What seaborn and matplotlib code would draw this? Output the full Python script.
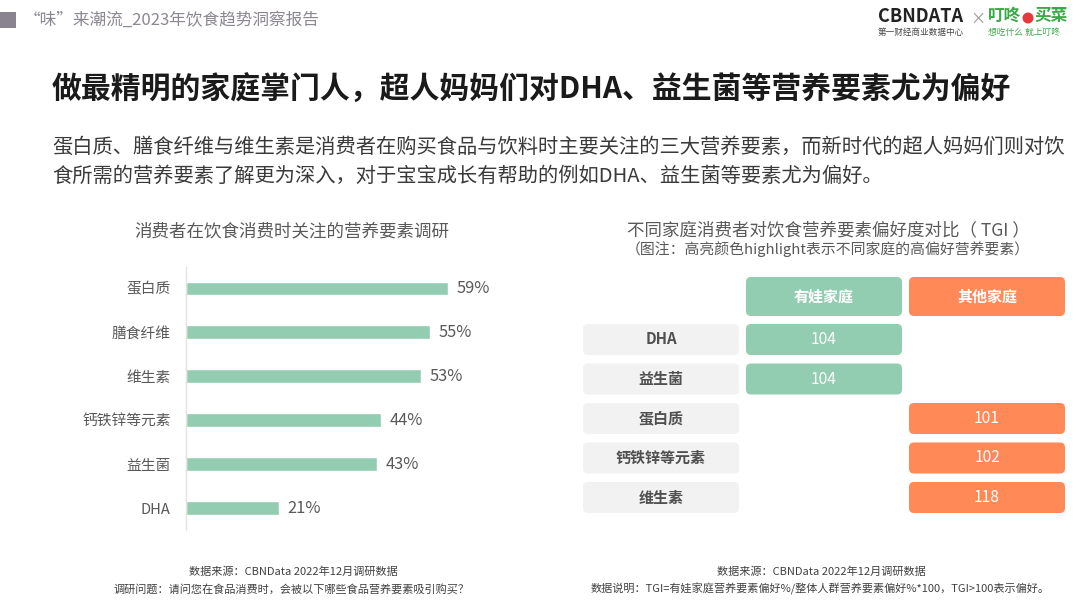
import numpy as np
import pandas as pd
import matplotlib
matplotlib.use("Agg")
import matplotlib.pyplot as plt
from matplotlib.patches import FancyBboxPatch, Rectangle, Circle
import seaborn as sns

W, H = 1080, 603

# left chart: share of consumers caring about each nutrient
nutrients = ["蛋白质", "膳食纤维", "维生素", "钙铁锌等元素", "益生菌", "DHA"]
shares = [59, 55, 53, 44, 43, 21]

# right table: TGI by family type
tgi_groups = ["有娃家庭", "其他家庭"]
tgi_items = ["DHA", "益生菌", "蛋白质", "钙铁锌等元素", "维生素"]
tgi_values = [104, 104, 101, 102, 118]
tgi_owner = ["有娃家庭", "有娃家庭", "其他家庭", "其他家庭", "其他家庭"]

GREEN = "#93cdb1"
ORANGE = "#ff8957"
CELL_GREY = "#f2f2f2"
TXT = "#595959"

sns.set_theme(style="white")
plt.rcParams["font.family"] = ["Noto Sans CJK SC", "DejaVu Sans"]

fig = plt.figure(figsize=(W / 100, H / 100), dpi=100, facecolor="white")


def fx(x):
    return x / W


def fy(y):
    return 1 - y / H


# full-figure axes in pixel units for text, logo and the table
bg = fig.add_axes([0, 0, 1, 1])
bg.set_xlim(0, W)
bg.set_ylim(H, 0)
bg.axis("off")

# ---- header ----
bg.add_patch(Rectangle((0, 12), 16, 16, color="#8a8490", lw=0))
bg.text(24, 20, "“味”来潮流_2023年饮食趋势洞察报告", fontsize=12, color="#8c8790",
        va="center", ha="left")

bg.text(878, 17, "CBNDATA", fontsize=13, fontweight="bold", color="#222222",
        va="center", ha="left")
bg.text(878, 32, "第一财经商业数据中心", fontsize=6.2, color="#444444",
        va="center", ha="left")
bg.text(978, 19, "×", fontsize=11, color="#999999", va="center", ha="center")
bg.text(988, 16, "叮咚", fontsize=12, fontweight="bold", color="#3aa846",
        va="center", ha="left")
bg.add_patch(Circle((1028, 18), 5.5, color="#e8383d", lw=0))
bg.text(1034, 16, "买菜", fontsize=12, fontweight="bold", color="#3aa846",
        va="center", ha="left")
bg.text(988, 32, "想吃什么 就上叮咚", fontsize=6.3, color="#3aa846",
        va="center", ha="left")

# ---- title and intro ----
bg.text(52, 90, "做最精明的家庭掌门人，超人妈妈们对DHA、益生菌等营养要素尤为偏好",
        fontsize=21.5, fontweight="bold", color="#1a1a1a", va="center", ha="left")
bg.text(52, 147, "蛋白质、膳食纤维与维生素是消费者在购买食品与饮料时主要关注的三大营养要素，而新时代的超人妈妈们则对饮",
        fontsize=14.6, color="#3a3a3a", va="center", ha="left")
bg.text(52, 176, "食所需的营养要素了解更为深入，对于宝宝成长有帮助的例如DHA、益生菌等要素尤为偏好。",
        fontsize=14.6, color="#3a3a3a", va="center", ha="left")

# ---- left chart ----
bg.text(292, 231, "消费者在饮食消费时关注的营养要素调研", fontsize=12.6, color=TXT,
        va="center", ha="center")

ax = fig.add_axes([fx(186), fy(530), (497 - 186) / W, (530 - 267) / H])
ax.set_facecolor("none")
df = pd.DataFrame({"item": nutrients, "share": shares})
sns.barplot(data=df, x="share", y="item", color=GREEN, width=0.3,
            saturation=1, ax=ax)
ax.set_xlim(0, 70)
ax.set_ylim(5.5, -0.48)
ax.set_xticks([])
ax.set_xlabel("")
ax.set_ylabel("")
for s in ["top", "right", "bottom"]:
    ax.spines[s].set_visible(False)
ax.spines["left"].set_color("#e3e3e3")
ax.spines["left"].set_linewidth(1)
ax.tick_params(axis="y", length=0, pad=11, labelsize=10.6, labelcolor=TXT)
ax.bar_label(ax.containers[0], labels=[f"{v}%" for v in shares], padding=6,
             fontsize=11.8, color=TXT)

bg.text(293, 572, "数据来源：CBNData 2022年12月调研数据", fontsize=8, color="#404040",
        va="center", ha="center")
bg.text(291, 589, "调研问题：请问您在食品消费时，会被以下哪些食品营养要素吸引购买？",
        fontsize=8, color="#404040", va="center", ha="center")

# ---- right table ----
bg.text(828, 230, "不同家庭消费者对饮食营养要素偏好度对比（ TGI ）", fontsize=12.6,
        color=TXT, va="center", ha="center")
bg.text(828, 249, "（图注：高亮颜色highlight表示不同家庭的高偏好营养要素）", fontsize=10.7,
        color=TXT, va="center", ha="center")

col_x0, col_w, col_pitch = 583, 156, 163
head_y, head_h = 277, 39
row_y0, row_h, row_pitch = 324, 31, 39.5
r = 5
group_colors = {"有娃家庭": GREEN, "其他家庭": ORANGE}


def rbox(x, y, w, h, color):
    bg.add_patch(FancyBboxPatch((x + r, y + r), w - 2 * r, h - 2 * r,
                                boxstyle=f"round,pad={r}", mutation_aspect=1,
                                fc=color, ec="none", lw=0))


for j, g in enumerate(tgi_groups):
    x = col_x0 + (j + 1) * col_pitch
    rbox(x, head_y, col_w, head_h, group_colors[g])
    bg.text(x + col_w / 2, head_y + head_h / 2, g, fontsize=10.8,
            fontweight="bold", color="white", va="center", ha="center")

for i, (item, val, owner) in enumerate(zip(tgi_items, tgi_values, tgi_owner)):
    y = row_y0 + i * row_pitch
    rbox(col_x0, y, col_w, row_h, CELL_GREY)
    bg.text(col_x0 + col_w / 2, y + row_h / 2, item, fontsize=10.8,
            fontweight="bold", color="#505050", va="center", ha="center")
    j = tgi_groups.index(owner)
    x = col_x0 + (j + 1) * col_pitch
    rbox(x, y, col_w, row_h, group_colors[owner])
    bg.text(x + col_w / 2, y + row_h / 2, str(val), fontsize=11.2,
            color="white", va="center", ha="center")

bg.text(821, 572, "数据来源：CBNData 2022年12月调研数据", fontsize=8, color="#404040",
        va="center", ha="center")
bg.text(820, 589, "数据说明：TGI=有娃家庭营养要素偏好%/整体人群营养要素偏好%*100，TGI>100表示偏好。",
        fontsize=8, color="#404040", va="center", ha="center")

fig.savefig("out.png", dpi=100, facecolor="white")
